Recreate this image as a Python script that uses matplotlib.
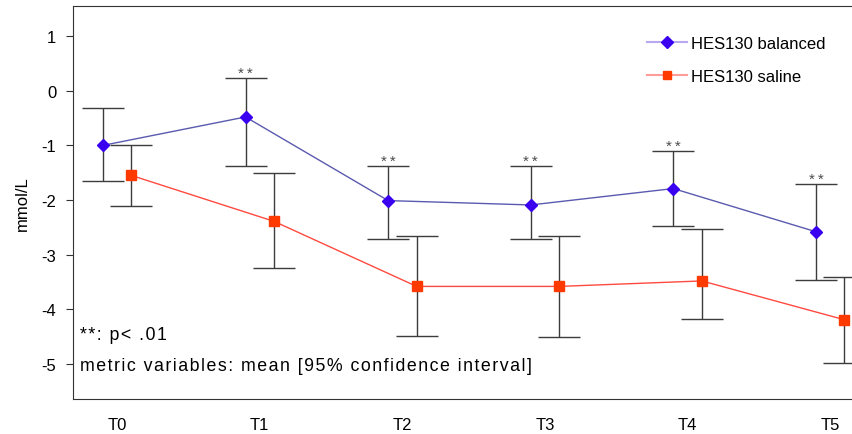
import matplotlib.pyplot as plt
from matplotlib.lines import Line2D

plt.rcParams['font.family'] = ['Liberation Sans', 'DejaVu Sans']
plt.rcParams['axes.unicode_minus'] = False

# chart data
times = ["T0", "T1", "T2", "T3", "T4", "T5"]
balanced_mean = [-1.00, -0.48, -2.01, -2.09, -1.79, -2.58]
balanced_upper = [-0.31, 0.23, -1.37, -1.37, -1.10, -1.70]
balanced_lower = [-1.65, -1.37, -2.72, -2.72, -2.47, -3.46]
saline_mean = [-1.55, -2.39, -3.58, -3.58, -3.48, -4.19]
saline_upper = [-1.00, -1.51, -2.65, -2.65, -2.53, -3.40]
saline_lower = [-2.10, -3.24, -4.48, -4.51, -4.18, -4.98]
significant = [False, True, True, True, True, True]

fig = plt.figure(figsize=(8.53, 4.35), dpi=100)
ax = fig.add_axes([73 / 853, 35 / 435, 1 - 73 / 853, 393 / 435])

xs = list(range(len(times)))
xb = [x - 0.1 for x in xs]
xsal = [x + 0.1 for x in xs]

def draw_series(xp, mean, lo, hi, line_col, mk, mk_col, ms):
    err = [[m - l for m, l in zip(mean, lo)], [h - m for m, h in zip(mean, hi)]]
    ax.errorbar(xp, mean, yerr=err, fmt="none", ecolor="#3c3c3c", elinewidth=1,
                capsize=15, capthick=1, zorder=2)
    ax.plot(xp, mean, color=line_col, lw=1, zorder=3)
    ax.plot(xp, mean, linestyle="none", marker=mk, color=mk_col, ms=ms, zorder=4)

def spaced(s, sep="\u200a"):
    # the original text is drawn with extra letter spacing
    return sep.join(s)

draw_series(xb, balanced_mean, balanced_lower, balanced_upper, "#5a5ab0", "D", "#3a00f0", 6)
draw_series(xsal, saline_mean, saline_lower, saline_upper, "#ff4a40", "s", "#ff3a00", 6.5)

for x, hi, sig in zip(xb, balanced_upper, significant):
    if sig:
        ax.text(x, hi - 0.04, spaced("**", "\u2009"), ha="center", va="bottom",
                fontsize=11, color="#4a4a4a")

ax.set_xlim(-0.31, 5.16)
ax.set_ylim(-5.64, 1.55)
ax.set_xticks(xs)
ax.set_xticklabels(times)
ax.set_yticks([1, 0, -1, -2, -3, -4, -5])
ax.tick_params(axis="x", length=0, pad=13, labelsize=12)
ax.tick_params(axis="y", length=5, pad=7, labelsize=12, color="#333333")
ax.spines["right"].set_visible(False)
for s in ["left", "top", "bottom"]:
    ax.spines[s].set_color("#333333")
ax.set_ylabel("mmol/L", fontsize=12, labelpad=8)

ax.text(0.009, 0.165, spaced("**: p< .01"), transform=ax.transAxes, fontsize=12.8, va="center")
ax.text(0.009, 0.0865, spaced("metric variables: mean [95% confidence interval]"),
        transform=ax.transAxes, fontsize=12.8, va="center")

handles = [
    Line2D([], [], color="#b8a8f0", lw=1.5, marker="D", markerfacecolor="#3a00f0",
           markeredgecolor="#3a00f0", ms=6),
    Line2D([], [], color="#ff9c98", lw=1.5, marker="s", markerfacecolor="#ff3a00",
           markeredgecolor="#ff3a00", ms=6),
]
ax.legend(handles, ["HES130 balanced", "HES130 saline"], loc="upper left",
          bbox_to_anchor=(647 / 853, 1 - 37 / 435), bbox_transform=fig.transFigure,
          frameon=False, fontsize=12, handlelength=2.4, handletextpad=0.25,
          labelspacing=1.05, borderpad=0, borderaxespad=0)

fig.savefig("out.png", dpi=100)
